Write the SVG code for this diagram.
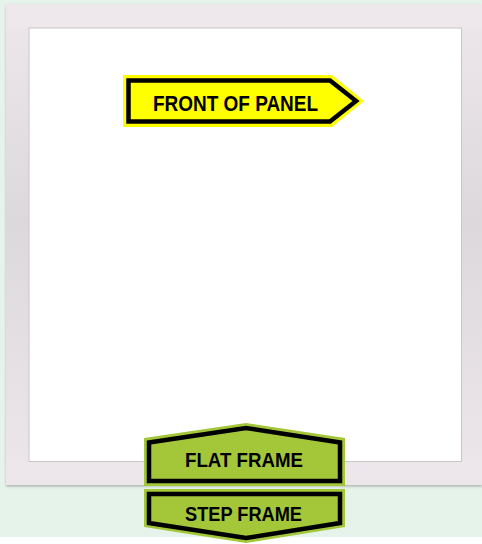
<svg xmlns="http://www.w3.org/2000/svg" width="482" height="544" viewBox="0 0 482 544">
  <defs>
    <linearGradient id="frameG" x1="0" y1="0" x2="0" y2="1">
      <stop offset="0" stop-color="#eee8ec"/>
      <stop offset="0.45" stop-color="#ddd8db"/>
      <stop offset="1" stop-color="#ede7eb"/>
    </linearGradient>
    <filter id="sh" x="-5%" y="-5%" width="110%" height="110%">
      <feDropShadow dx="0" dy="1.5" stdDeviation="1" flood-color="#8a8a8a" flood-opacity="0.6"/>
    </filter>
  </defs>
  <style>
    .lbl { font-family: "Liberation Sans", Arial, sans-serif; font-weight: bold; fill: #000; text-anchor: middle; }
    .edge { fill: none; stroke: #000; stroke-width: 4.5; stroke-linejoin: miter; }
  </style>
  <rect x="0" y="0" width="482" height="537" fill="#e5f3ea"/>
  <rect x="0" y="537" width="482" height="7" fill="#ffffff"/>
  <g id="frame">
    <rect x="6" y="4" width="476" height="481" fill="url(#frameG)" filter="url(#sh)"/>
    <rect x="6" y="4" width="476" height="24" fill="#eee7eb"/>
    <rect x="6" y="461" width="476" height="24" fill="#ede6ea"/>
    <rect x="29" y="28" width="432.5" height="433.5" fill="#ffffff" stroke="#c9c5c8" stroke-width="1"/>
  </g>
  <g id="front-of-panel">
    <polygon points="123,75 332,75 364,101 332,127 123,127" fill="#ffff00"/>
    <polygon class="edge" points="128.5,80.5 330,80.5 356,101 330,121.5 128.5,121.5"/>
    <text class="lbl" x="235.5" y="110.5" font-size="22.5" textLength="165" lengthAdjust="spacingAndGlyphs">FRONT OF PANEL</text>
  </g>
  <g id="flat-frame">
    <polygon points="144,438 246,423 345,438 345,486 144,486" fill="#a4c639"/>
    <polygon class="edge" points="149,442.5 246,428 340,442.5 340,481 149,481"/>
    <text class="lbl" x="244" y="466.5" font-size="21" textLength="118" lengthAdjust="spacingAndGlyphs">FLAT FRAME</text>
  </g>
  <g id="step-frame">
    <polygon points="144,489 345,489 345,527 246,543 144,527" fill="#a4c639"/>
    <polygon class="edge" points="149,494 340,494 340,523 246,538 149,523"/>
    <text class="lbl" x="243.5" y="520.5" font-size="21" textLength="117" lengthAdjust="spacingAndGlyphs">STEP FRAME</text>
  </g>
  <g id="connectors"/>
</svg>
